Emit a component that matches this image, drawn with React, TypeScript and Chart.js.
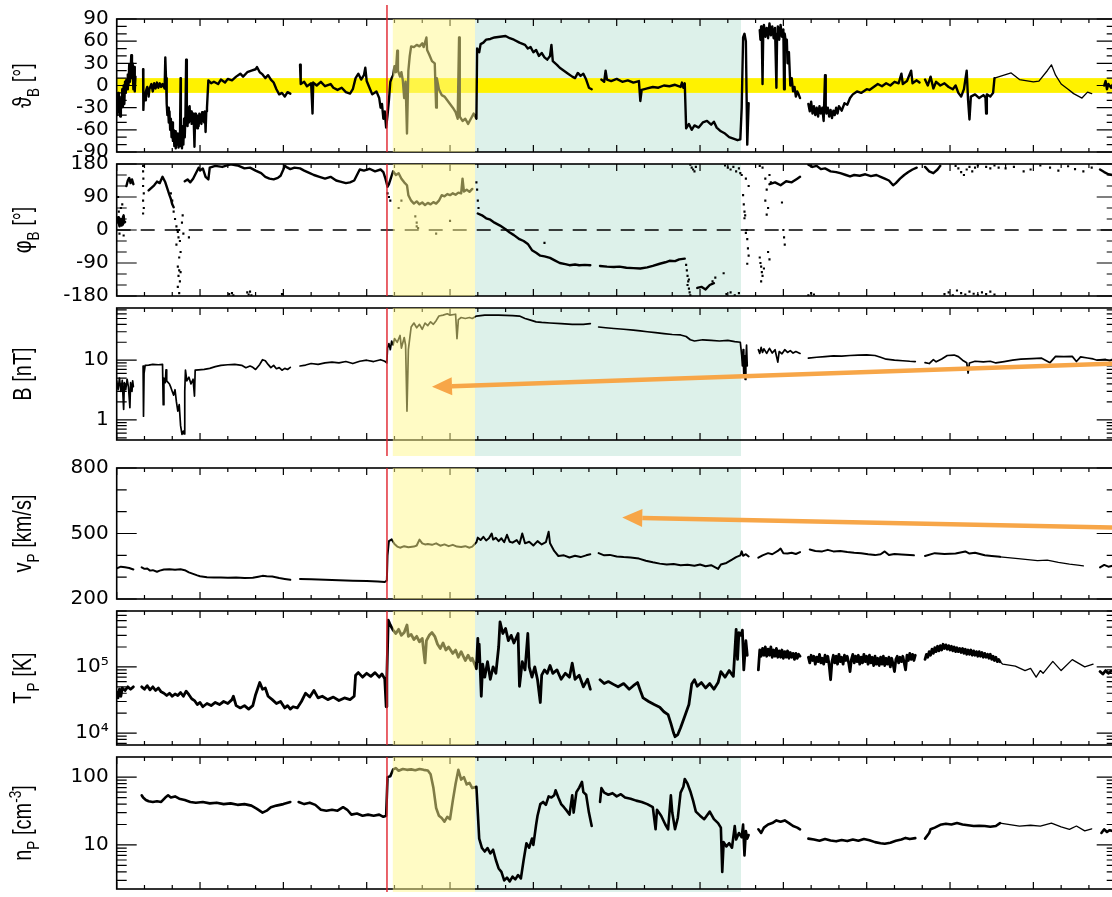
import React, { useEffect, useRef } from 'react';
import { Chart, registerables } from 'chart.js';

Chart.register(...registerables);

type P = [number, number | null];

// ---- time axis (hours) and event times ----
const X_MIN = 0;
const X_MAX = 72;
const X_MAJOR = 6;
const X_MINOR = 2;
const SHOCK_TIME = 19.46;
const SHEATH_START = 19.88;
const SHEATH_END = 25.8;
const CLOUD_END = 44.95;

// ---- tick labels ----
const thetaTicks = [-90, -60, -30, 0, 30, 60, 90];
const phiTicks = [-180, -90, 0, 90, 180];
const bTicks = [1, 10];
const vTicks = [200, 500, 800];
const tTicks = [1e4, 1e5];
const nTicks = [10, 100];
const thetaBand = [-10, 10];

// ---- series: [hour, value] ----
const thetaData: P[] = [
  [0.0,-20],[0.05,-40],[0.1,-10],[0.15,-36],[0.2,-15],[0.25,-42],[0.3,-20],[0.35,-30],[0.4,-5],[0.45,-28],[0.5,0],[0.55,-25],[0.6,5],[0.65,-10],[0.7,8],[0.75,-5],[0.8,15],[0.85,0],[0.9,28],[0.95,5],[1.0,20],[1.05,41],[1.1,10],[1.15,30],[1.2,-5],[1.25,25],[1.3,-8],[1.35,12],[1.6,null],
  [1.9,22],[1.92,-33],[1.97,-10],[2.05,-20],[2.1,-8],[2.2,-2],[2.3,-15],[2.35,-5],[2.5,2],[2.6,-8],[2.7,3],[2.8,-4],[2.9,4],[3.0,-3],[3.1,3],[3.2,-2],[3.3,2],[3.45,-4],[3.5,38],[3.55,10],[3.6,-25],[3.65,-40],[3.7,-30],[3.75,-50],[3.8,-35],[3.85,-60],[3.9,-45],[3.95,-70],[4.0,-50],[4.05,-75],[4.1,-60],[4.15,-82],[4.2,-62],[4.25,-85],[4.3,-70],[4.35,-80],[4.4,-65],[4.45,-84],[4.5,-70],[4.55,-82],[4.6,10],[4.62,-75],[4.65,-60],[4.7,-85],[4.75,-55],[4.8,-80],[4.85,-45],[4.9,-70],[4.95,-40],[5.0,35],[5.05,-35],[5.1,-55],[5.15,-30],[5.2,-50],[5.25,-28],[5.3,-48],[5.35,-35],[5.4,-52],[5.5,-38],[5.55,-50],[5.6,-83],[5.65,-38],[5.7,-55],[5.75,-40],[5.8,-58],[5.85,-42],[5.9,-55],[5.95,-38],[6.0,-50],[6.05,-40],[6.1,-52],[6.15,-36],[6.2,-48],[6.25,-40],[6.3,-50],[6.35,-35],[6.4,-63],[6.45,-35],[6.5,-30],
  [6.6,7],[6.8,3],[7.0,5],[7.3,2],[7.5,8],[7.8,4],[8.0,9],[8.3,7],[8.6,12],[8.9,16],[9.1,12],[9.4,18],[9.7,20],[10.0,22],[10.1,25],[10.3,18],[10.5,15],[10.7,10],[10.9,14],[11.1,8],[11.3,4],[11.5,-5],[11.7,-12],[11.9,-10],[12.1,-15],[12.3,-9],[12.5,-11],[12.9,null],
  [13.2,28],[13.25,2],[13.5,5],[13.7,-1],[14.0,3],[14.1,-38],[14.15,4],[14.4,0],[14.7,5],[15.0,-1],[15.4,2],[15.6,-3],[15.9,-6],[16.2,-3],[16.5,-9],[16.8,-11],[17.0,-5],[17.2,10],[17.4,16],[17.6,8],[17.8,14],[17.9,24],[18.0,6],[18.2,-3],[18.4,-12],[18.7,-8],[18.9,-17],[19.0,-30],[19.1,-25],[19.2,-45],[19.3,-35],[19.4,-57],[19.5,-40],[19.6,-20],[19.7,5],[19.8,10],
  [19.9,14],[20.0,26],[20.1,18],[20.2,47],[20.25,20],[20.4,12],[20.5,18],[20.6,7],[20.7,-17],[20.8,5],[20.9,-65],[21.0,20],[21.1,40],[21.2,53],[21.4,52],[21.6,55],[21.8,53],[22.0,57],[22.1,52],[22.3,65],[22.35,48],[22.5,42],[22.7,33],[22.9,30],[23.0,-30],[23.05,10],[23.2,-5],[23.4,-13],[23.6,-15],[23.8,-20],[24.0,-25],[24.2,-30],[24.4,-36],[24.55,-45],[24.65,65],[24.7,-42],[24.9,-48],[25.1,-45],[25.3,-52],[25.5,-45],[25.7,-38],
  [25.9,-45],[25.95,50],[26.1,45],[26.2,56],[26.4,58],[26.6,62],[26.9,63],[27.2,65],[27.6,66],[28.0,67],[28.3,64],[28.6,62],[29.0,58],[29.4,55],[29.6,50],[29.8,52],[30.0,45],[30.2,48],[30.4,40],[30.6,44],[30.8,38],[31.0,35],[31.2,40],[31.3,55],[31.4,33],[31.7,28],[31.9,24],[32.2,20],[32.5,16],[32.8,12],[33.0,10],[33.2,17],[33.4,13],[33.6,16],[33.8,8],[34.0,-3],[34.2,-5],[34.5,null],
  [34.9,8],[35.1,5],[35.2,20],[35.3,8],[35.6,6],[36.0,9],[36.4,5],[36.8,7],[37.2,4],[37.6,6],[37.7,-21],[37.8,-6],[38.2,-4],[38.6,-2],[39.0,-3],[39.4,0],[39.8,-1],[40.2,1],[40.6,-2],[40.7,4],[40.8,-3],[40.9,3],[41.0,-58],[41.2,-52],[41.4,-60],[41.6,-54],[41.9,-57],[42.2,-50],[42.5,-48],[42.8,-53],[43.0,-49],[43.2,-57],[43.5,-62],[43.8,-65],[44.1,-70],[44.4,-72],[44.7,-74],[44.9,-73],[45.0,-30],[45.1,65],[45.2,70],[45.3,60],[45.4,-80],[45.5,-24],[45.8,null],
  [46.3,75],[46.35,62],[46.4,80],[46.45,66],[46.5,2],[46.55,70],[46.6,82],[46.7,66],[46.8,78],[46.9,64],[47.0,84],[47.1,68],[47.2,80],[47.3,64],[47.4,78],[47.5,-3],[47.55,70],[47.6,80],[47.7,62],[47.8,82],[47.9,66],[48.0,76],[48.05,-5],[48.1,70],[48.2,55],[48.25,62],[48.3,30],[48.4,45],[48.5,0],[48.6,10],[48.7,-8],[48.8,-2],[48.9,-15],[49.0,-8],[49.1,-12],[49.2,-17],[49.4,null],
  [49.8,-25],[49.9,-35],[50.0,-22],[50.1,-38],[50.2,-28],[50.3,-40],[50.4,-30],[50.5,-42],[50.6,-28],[50.7,-38],[50.8,-30],[50.9,-48],[51.0,14],[51.05,-28],[51.1,-38],[51.2,-30],[51.3,-42],[51.4,-33],[51.5,-44],[51.6,-34],[51.7,-40],[51.8,-30],[51.9,-38],[52.0,-28],[52.2,-34],[52.4,-24],[52.6,-26],[52.8,-17],[53.0,-12],[53.3,-8],[53.6,-10],[54.0,-5],[54.2,-6],[54.5,-2],[54.8,2],[55.1,-1],[55.4,3],[55.7,0],[56.0,5],[56.3,3],[56.5,16],[56.6,2],[56.9,6],[57.2,20],[57.3,3],[57.6,7],[57.8,4],[58.0,null],
  [58.2,8],[58.4,0],[58.6,12],[58.8,-4],[59.0,5],[59.3,0],[59.6,3],[59.9,-2],[60.2,-5],[60.4,0],[60.6,-10],[60.8,-15],[61.0,-5],[61.2,20],[61.3,-20],[61.4,-46],[61.5,-15],[61.8,-12],[62.1,-17],[62.4,-13],[62.55,-16],[62.6,-38],[62.65,-12],[62.9,-15],[63.1,-10],[63.2,10],[63.3,null],
  [71.1,0],[71.2,6],[71.3,-5],[71.4,2],[71.6,-3],[71.7,1],
];
const thetaThin: P[] = [
  [63.2,10],[64.4,17],[65.0,8],[66.0,5],[66.4,6],[67.0,20],[67.3,28],[67.6,14],[68.0,2],[68.5,-5],[68.9,-11],[69.5,-17],[69.9,-9],[70.2,-11],
];

const phiTrack: P[] = [
  [0.0,20],[0.05,32],[0.1,35],[0.15,18],[0.2,10],[0.25,30],[0.3,28],[0.35,12],[0.4,15],[0.45,35],[0.5,40],[0.55,20],[0.6,22],[0.65,null],
  [0.7,120],[0.8,135],[0.9,142],[1.0,128],[1.1,138],[1.2,125],[1.25,null],
  [2.3,108],[2.5,115],[2.7,122],[2.9,132],[3.1,128],[3.3,145],[3.5,130],[3.6,118],[3.8,95],[3.9,85],[4.0,70],[4.1,62],[4.15,null],
  [4.9,133],[5.1,138],[5.3,130],[5.5,140],[5.7,155],[5.9,170],[6.0,162],[6.2,168],[6.4,145],[6.6,138],[6.7,170],[7.1,175],[7.6,172],[8.2,179],[8.7,176],[9.2,168],[9.6,170],[10.0,162],[10.4,155],[10.7,145],[11.0,140],[11.3,138],[11.6,142],[11.8,148],[12.0,165],[12.1,175],[12.3,170],[12.5,166],[12.8,170],[13.2,168],[13.5,162],[13.9,155],[14.2,150],[14.6,145],[15.0,140],[15.4,145],[15.8,135],[16.1,132],[16.5,128],[16.8,130],[17.1,135],[17.3,150],[17.5,165],[17.8,162],[18.2,167],[18.6,160],[19.0,165],[19.2,158],[19.35,140],[19.5,118],[19.6,125],
  [19.9,160],[20.1,150],[20.3,155],[20.5,140],[20.7,130],[20.9,122],[21.0,95],[21.2,80],[21.4,72],[21.6,78],[21.8,70],[22.0,75],[22.2,68],[22.4,74],[22.6,70],[22.8,76],[23.0,72],[23.2,80],[23.4,95],[23.6,92],[23.8,98],[24.0,95],[24.2,100],[24.4,96],[24.6,102],[24.8,100],[24.9,140],[25.0,105],[25.2,110],[25.4,104],[25.6,112],[25.8,null],
  [26.0,45],[26.3,40],[26.6,32],[26.9,28],[27.2,20],[27.6,12],[28.0,2],[28.3,-7],[28.6,-14],[29.0,-25],[29.3,-30],[29.6,-38],[29.9,-55],[30.2,-62],[30.5,-70],[30.8,-72],[31.2,-76],[31.5,-82],[31.9,-90],[32.3,-93],[32.6,-96],[33.0,-94],[33.3,-96],[33.7,-95],[34.1,-96],[34.4,null],
  [34.8,-98],[35.3,-100],[35.8,-101],[36.2,-100],[36.7,-103],[37.2,-104],[37.7,-105],[38.2,-102],[38.6,-98],[39.1,-92],[39.5,-88],[39.8,-84],[40.2,-85],[40.5,-80],[40.9,-78],[41.0,null],
  [41.8,-158],[42.1,-155],[42.4,-162],[42.7,-150],[43.0,-145],[43.05,null],
  [47.0,125],[47.4,130],[47.8,122],[48.2,133],[48.6,130],[49.0,140],[49.2,145],[49.3,null],
  [49.8,178],[50.1,172],[50.4,175],[50.7,166],[51.0,168],[51.4,160],[51.8,158],[52.1,155],[52.5,150],[52.8,146],[53.1,150],[53.5,148],[53.9,152],[54.3,147],[54.7,150],[55.0,145],[55.3,140],[55.6,135],[55.9,122],[56.1,128],[56.4,140],[56.7,150],[57.0,158],[57.3,165],[57.6,170],[57.8,null],
  [58.2,172],[58.5,160],[58.8,155],[59.1,165],[59.3,175],[59.4,null],
  [70.8,165],[71.1,158],[71.4,152],[71.7,150],
];
const phiDots: P[] = [
  [0.1,90],[0.3,60],[0.2,-10],[0.5,-15],[0.4,70],[0.15,50],
  [1.9,175],[1.9,160],[1.92,140],[1.9,120],[1.95,100],[1.9,80],[1.95,60],[1.9,45],
  [3.9,100],[4.0,80],[4.1,50],[4.2,30],[4.3,10],[4.35,0],[4.4,-5],[4.45,-20],[4.5,0],[4.55,-30],[4.3,-40],[4.6,-60],[4.5,-75],[4.4,-100],[4.5,-110],[4.6,-115],[4.45,-125],[4.55,-140],[4.4,-155],[4.5,-172],[4.7,20],[4.8,-10],[4.75,40],[5.2,-20],
  [8.1,-175],[8.3,-172],[8.4,-178],[9.4,-170],[9.5,-176],[9.6,-168],[9.7,-178],[11.9,-175],
  [19.5,100],[19.6,90],[19.7,80],
  [20.3,60],[20.5,80],[21.5,37],[21.6,20],[21.7,5],[21.6,10],[23.0,-10],[24.0,25],
  [25.9,130],[25.95,110],[26.0,80],[26.05,60],[30.8,-35],
  [41.0,-95],[41.05,-110],[41.1,-125],[41.15,-140],[41.1,-150],[41.2,-160],[41.25,-170],[41.3,-178],[41.2,-135],
  [41.3,178],[41.4,170],[41.5,165],[41.6,160],[41.7,172],
  [42.9,-140],[43.1,-130],[43.7,-118],
  [43.8,176],[44.0,170],[44.2,165],[44.4,172],[44.6,160],[44.8,168],[44.9,155],[45.0,150],
  [43.9,-175],[44.2,-170],[44.5,-178],[44.8,-172],
  [45.1,95],[45.15,70],[45.2,50],[45.25,40],[45.2,32],[45.3,-8],[45.35,0],[45.4,-25],[45.45,-50],[45.5,-70],[45.4,-92],[45.3,140],[45.5,120],
  [46.3,-75],[46.35,-90],[46.4,-100],[46.45,-115],[46.5,-125],[46.4,-140],[46.6,-105],[46.3,175],[46.5,170],[46.7,140],[46.8,110],[46.7,80],[46.9,60],[46.8,42],[46.9,-60],[47.0,-80],[47.0,150],[47.1,130],
  [47.9,75],[48.0,0],[48.1,-40],[48.05,-20],
  [49.8,-178],[50.0,-172],[50.2,-176],
  [60.4,175],[60.6,168],[60.8,158],[61.0,150],[61.2,165],[61.4,172],[61.6,160],[61.8,170],[62.0,176],
  [62.6,172],[62.9,168],[63.2,176],[63.5,170],
  [59.6,-175],[59.9,-170],[60.2,-178],[60.5,-165],[60.8,-172],[61.1,-176],[61.4,-168],[61.7,-174],[62.0,-178],[62.3,-170],[62.6,-175],[62.9,-168],[63.2,-176],
  [64.0,168],[64.6,172],[65.3,160],[65.8,165],[66.5,176],[67.2,170],[67.8,162],[68.5,174],[69.0,166],[69.6,160],[70.2,170],
];
const phiZero: P[] = [[X_MIN, 0], [X_MAX, 0]];

const bData: P[] = [
  [0.0,4.5],[0.1,3.2],[0.2,5.0],[0.3,3.0],[0.4,4.6],[0.5,1.5],[0.55,4.2],[0.65,3.2],[0.75,4.8],[0.85,3.5],[0.95,1.6],[1.0,4.2],[1.1,3.0],[1.15,4.5],[1.2,3.6],[1.5,null],
  [1.9,8.0],[1.93,1.15],[1.97,6.0],[2.05,8.2],[2.3,8.3],[2.6,8.5],[3.0,8.4],[3.3,8.5],[3.35,1.8],[3.4,5.0],[3.5,4.2],[3.55,6.9],[3.6,4.5],[3.8,4.0],[3.9,3.5],[4.0,3.0],[4.1,2.6],[4.2,3.2],[4.3,2.0],[4.4,1.4],[4.5,1.8],[4.6,0.8],[4.7,0.57],[4.8,0.65],[4.85,0.58],[4.9,3.0],[4.95,6.8],[5.05,4.5],[5.2,5.2],[5.35,4.0],[5.5,4.8],[5.6,2.5],[5.65,6.8],[5.9,6.9],[6.3,7.0],[6.7,7.3],[7.1,7.8],[7.5,8.2],[8.0,8.4],[8.5,8.5],[9.0,8.2],[9.3,7.5],[9.6,8.0],[9.8,7.6],[10.0,7.0],[10.3,8.5],[10.5,10.2],[10.7,9.8],[10.9,8.5],[11.1,7.5],[11.3,8.2],[11.5,7.2],[11.7,7.5],[11.9,6.8],[12.1,7.3],[12.3,7.0],[12.5,7.6],[12.8,null],
  [13.2,8.0],[13.6,8.3],[14.0,8.8],[14.5,8.5],[15.0,9.0],[15.5,9.3],[16.0,9.0],[16.5,9.5],[17.0,8.8],[17.5,9.6],[18.0,10.0],[18.5,9.5],[19.0,10.2],[19.3,9.6],[19.45,9.0],
  [19.5,16],[19.6,19],[19.7,15],[19.8,21],[19.9,18],[20.0,23],[20.2,20],[20.4,26],[20.5,16],[20.7,24],[20.8,18],[20.9,1.4],[21.0,15],[21.2,36],[21.4,42],[21.6,35],[21.8,40],[22.0,33],[22.2,42],[22.4,38],[22.6,44],[22.8,40],[23.0,46],[23.2,55],[23.5,57],[23.8,60],[24.0,57],[24.4,59],[24.5,23],[24.6,48],[24.8,52],[25.1,50],[25.4,52],[25.6,50],
  [25.9,55],[26.5,57],[27.5,57],[28.5,56],[29.0,55],[29.4,50],[29.8,47],[30.2,44],[30.6,43],[31.2,42],[32.0,41],[32.8,40],[33.6,40],[34.1,41],[34.4,null],
  [34.7,36],[35.2,35],[35.8,34],[36.5,33],[37.2,32],[37.7,31],[38.2,30],[38.8,29],[39.4,28],[40.0,27],[40.6,26.5],[41.0,25],[41.3,22],[41.6,21],[42.2,22],[42.8,21.5],[43.4,21],[44.0,21.5],[44.5,20.5],[44.9,20],[45.0,12],[45.05,8],[45.1,15],[45.15,5.7],[45.2,12],[45.25,4.75],[45.3,10],[45.35,18],[45.4,8],[45.8,null],
  [46.2,15],[46.3,13],[46.4,16.4],[46.5,13.5],[46.6,15.5],[46.8,13],[47.0,15.8],[47.2,13.2],[47.4,15],[47.6,9.3],[47.7,14],[47.9,12.8],[48.1,15],[48.3,13.5],[48.5,14.5],[48.7,13.2],[48.9,14],[49.2,13.0],[49.5,null],
  [49.8,10.8],[50.4,11.2],[51.0,11.5],[51.6,11.8],[52.2,11.7],[52.8,12.0],[53.4,12.2],[54.0,12.3],[54.6,12.0],[55.0,11.2],[55.4,10.4],[56.0,10.0],[56.6,9.8],[57.1,9.6],[57.5,9.5],[57.8,null],
  [58.2,9.1],[58.5,8.8],[58.8,10.2],[59.0,9.4],[59.4,10.5],[59.8,12.0],[60.3,12.2],[60.6,11.5],[60.9,10.0],[61.2,9.1],[61.3,6.1],[61.4,9.0],[61.8,9.6],[62.4,9.4],[62.9,9.6],[63.3,9.0],[63.9,9.5],[64.5,10.0],[65.1,10.4],[65.9,10.6],[66.6,10.8],[67.2,9.1],[67.6,11.6],[68.2,11.5],[68.8,11.6],[69.1,9.5],[69.4,11.4],[69.9,10.9],[70.3,10.5],[70.6,10.0],[71.2,10.3],[71.5,9.8],[71.7,10.4],
];

const vData: P[] = [
  [0.0,340],[0.3,348],[0.6,345],[0.9,342],[1.2,335],[1.5,null],
  [1.8,345],[2.0,338],[2.2,340],[2.4,330],[2.6,332],[2.9,325],[3.1,330],[3.4,335],[3.8,336],[4.2,334],[4.6,336],[4.9,332],[5.2,322],[5.5,315],[5.8,308],[6.0,304],[6.5,300],[7.0,298],[7.5,299],[8.0,297],[8.6,298],[9.2,296],[9.8,297],[10.2,302],[10.5,306],[10.8,304],[11.2,303],[11.7,296],[12.1,292],[12.5,288],[12.8,null],
  [13.2,292],[14.0,290],[15.0,288],[16.0,286],[17.0,284],[18.0,283],[18.8,280],[19.3,278],[19.45,285],[19.5,400],[19.6,465],[19.8,473],[20.0,452],[20.2,440],[20.4,435],[20.7,442],[21.0,437],[21.4,440],[21.6,445],[21.8,472],[22.0,455],[22.2,450],[22.4,452],[22.7,448],[23.0,455],[23.3,444],[23.6,450],[23.9,442],[24.2,448],[24.5,440],[24.8,438],[25.1,442],[25.4,435],[25.6,440],
  [25.9,460],[26.0,481],[26.2,470],[26.4,485],[26.6,468],[26.8,478],[27.0,500],[27.1,472],[27.3,480],[27.5,465],[27.7,478],[27.9,460],[28.1,494],[28.3,462],[28.5,458],[28.8,470],[29.0,452],[29.2,500],[29.4,455],[29.7,462],[30.0,445],[30.3,465],[30.6,450],[30.9,460],[31.1,508],[31.2,455],[31.5,420],[31.8,397],[32.2,400],[32.6,390],[33.0,398],[33.4,392],[33.8,400],[34.1,405],[34.4,null],
  [34.7,410],[35.1,400],[35.5,402],[36.0,395],[36.5,392],[37.0,390],[37.6,385],[38.1,375],[38.6,368],[39.1,362],[39.6,358],[40.1,360],[40.6,355],[41.1,357],[41.6,352],[42.0,358],[42.4,350],[42.8,355],[43.3,338],[43.5,358],[43.9,365],[44.3,380],[44.6,392],[44.9,400],[45.0,418],[45.1,398],[45.3,405],[45.5,395],[45.8,null],
  [46.2,389],[46.5,400],[46.9,410],[47.2,405],[47.6,420],[47.8,431],[48.0,410],[48.3,408],[48.6,412],[48.9,406],[49.2,415],[49.5,null],
  [49.9,427],[50.3,420],[50.8,418],[51.2,425],[51.6,418],[52.1,420],[52.6,415],[53.1,412],[53.6,410],[54.1,405],[54.6,401],[55.0,405],[55.3,418],[55.6,402],[56.0,406],[56.5,404],[57.4,400],[57.8,null],
  [58.2,397],[58.9,410],[59.6,406],[60.4,408],[61.1,418],[61.4,408],[61.8,412],[62.5,400],[63.0,397],[63.6,393],[63.7,null],
  [70.8,345],[71.1,356],[71.4,348],[71.7,352],
];
const vThin: P[] = [
  [63.6,393],[64.9,385],[66.3,376],[67.0,378],[67.8,368],[68.6,360],[69.2,355],[69.6,352],
];

const tData: P[] = [
  [0.0,4.2e4],[0.1,3.4e4],[0.2,4.6e4],[0.3,3.6e4],[0.4,4.8e4],[0.6,4.4e4],[0.8,5.0e4],[1.0,4.6e4],[1.2,5.0e4],[1.5,null],
  [1.8,5.0e4],[2.0,4.6e4],[2.2,5.2e4],[2.4,4.5e4],[2.6,5.0e4],[2.8,4.4e4],[3.0,4.8e4],[3.2,4.2e4],[3.4,4.0e4],[3.6,3.7e4],[3.8,4.0e4],[4.0,3.6e4],[4.2,3.9e4],[4.4,3.7e4],[4.6,4.1e4],[4.8,3.6e4],[5.0,4.3e4],[5.2,3.8e4],[5.4,3.3e4],[5.6,3.1e4],[5.8,2.7e4],[6.0,2.9e4],[6.2,2.5e4],[6.5,2.8e4],[6.8,2.6e4],[7.1,2.9e4],[7.4,2.7e4],[7.7,3.0e4],[8.0,2.8e4],[8.3,3.2e4],[8.4,3.6e4],[8.6,2.6e4],[8.9,2.4e4],[9.2,2.6e4],[9.5,2.3e4],[9.8,2.6e4],[10.0,3.8e4],[10.3,5.8e4],[10.5,4.6e4],[10.7,4.8e4],[10.9,3.6e4],[11.2,3.2e4],[11.5,2.8e4],[11.8,3.0e4],[12.1,2.4e4],[12.3,2.6e4],[12.5,2.3e4],
  [12.7,2.5e4],[13.0,2.4e4],[13.3,3.0e4],[13.6,4.0e4],[13.9,3.5e4],[14.2,4.4e4],[14.5,3.4e4],[14.8,3.6e4],[15.2,3.2e4],[15.6,3.5e4],[16.0,3.1e4],[16.4,3.4e4],[16.8,3.2e4],[17.1,3.6e4],[17.2,7.5e4],[17.4,8.2e4],[17.7,7.0e4],[18.0,8.0e4],[18.3,7.2e4],[18.6,8.2e4],[18.9,7.0e4],[19.1,7.8e4],[19.3,6.6e4],[19.4,2.5e4],[19.45,7e4],[19.55,5.1e5],[19.7,4.3e5],
  [19.9,3.6e5],[20.1,3.2e5],[20.3,3.7e5],[20.5,3.0e5],[20.7,3.3e5],[20.9,4.3e5],[21.0,2.9e5],[21.2,3.1e5],[21.4,2.6e5],[21.6,2.9e5],[21.8,2.4e5],[22.0,2.7e5],[22.2,1.15e5],[22.3,2.5e5],[22.5,3.0e5],[22.7,3.3e5],[22.9,2.9e5],[23.1,2.2e5],[23.3,1.9e5],[23.5,2.3e5],[23.7,1.8e5],[23.9,2.0e5],[24.2,1.6e5],[24.4,1.8e5],[24.6,1.4e5],[24.8,1.7e5],[25.1,1.25e5],[25.3,1.5e5],[25.5,1.25e5],[25.6,1.35e5],
  [25.9,9.4e4],[26.0,2.7e5],[26.05,1.2e5],[26.1,2.2e5],[26.25,3.6e4],[26.35,1.1e5],[26.5,7.0e4],[26.7,1.2e5],[26.9,6.5e4],[27.1,1.0e5],[27.3,8.0e4],[27.5,2.0e5],[27.6,4.8e5],[27.8,3.2e5],[28.0,3.8e5],[28.2,2.5e5],[28.4,3.0e5],[28.6,2.3e5],[28.9,3.2e5],
  [29.0,5.1e4],[29.2,1.2e5],[29.4,9e4],[29.6,3.2e5],[29.7,1.0e5],[29.9,7.0e4],[30.1,1.0e5],[30.3,6.4e4],[30.5,2.9e4],[30.6,7.5e4],[30.8,9.0e4],[31.0,8.0e4],[31.2,1.05e5],[31.4,8.0e4],[31.7,9.0e4],[32.0,6.5e4],[32.3,8.0e4],[32.6,7.0e4],[32.8,1.14e5],[33.0,6.5e4],[33.3,7.5e4],[33.6,5.0e4],[33.9,6.5e4],[34.1,4.6e4],[34.4,null],
  [34.8,6.4e4],[35.1,5.6e4],[35.4,6.0e4],[35.8,5.4e4],[36.1,5.0e4],[36.5,5.6e4],[36.9,4.6e4],[37.2,5.2e4],[37.5,5.8e4],
  [37.7,4.4e4],[37.9,3.4e4],[38.3,3.0e4],[38.7,2.7e4],[39.1,2.45e4],[39.4,2.1e4],[39.7,1.9e4],[39.9,1.4e4],[40.1,1.0e4],[40.2,8.8e3],[40.4,9.5e3],[40.6,1.2e4],[40.9,1.8e4],[41.2,2.7e4],[41.4,5.5e4],[41.6,6.4e4],[41.8,5.1e4],[42.1,5.8e4],[42.4,4.8e4],[42.7,5.6e4],[43.0,4.6e4],[43.3,5.8e4],[43.5,8.5e4],[43.8,7.0e4],[44.1,8.8e4],[44.4,7.2e4],[44.6,3.7e5],[44.7,1.3e5],[44.8,3.3e5],[44.95,3.0e5],[45.05,3.6e5],[45.15,9.0e4],[45.3,2.5e5],[45.4,1.5e5],[45.8,null],
  [46.2,9e4],[46.3,1.8e5],[46.4,1.45e5],[46.5,1.9e5],[46.6,1.5e5],[46.7,2.0e5],[46.8,1.45e5],[46.9,1.85e5],[47.0,1.5e5],[47.1,2.0e5],[47.2,1.4e5],[47.3,1.8e5],[47.4,1.45e5],[47.5,1.9e5],[47.6,1.4e5],[47.7,1.75e5],[47.8,1.4e5],[47.9,1.8e5],[48.0,1.35e5],[48.1,1.7e5],[48.2,1.4e5],[48.3,1.75e5],[48.4,1.35e5],[48.5,1.65e5],[48.6,1.4e5],[48.7,1.6e5],[48.8,1.3e5],[48.9,1.6e5],[49.0,1.35e5],[49.1,1.55e5],[49.2,1.45e5],[49.5,null],
  [49.8,1.4e5],[49.9,1.15e5],[50.0,1.5e5],[50.1,1.25e5],[50.2,1.45e5],[50.3,1.1e5],[50.4,1.4e5],[50.5,1.2e5],[50.6,1.55e5],[50.7,1.15e5],[50.8,1.35e5],[50.9,1.1e5],[51.0,1.5e5],[51.1,1.2e5],[51.2,1.45e5],[51.3,1.05e5],[51.4,6.4e4],[51.5,1.2e5],[51.6,1.5e5],[51.7,1.15e5],[51.8,1.45e5],[51.9,1.1e5],[52.0,1.55e5],[52.1,1.2e5],[52.2,1.4e5],[52.3,1.1e5],[52.4,1.5e5],[52.5,1.25e5],[52.6,1.45e5],[52.7,1.15e5],[52.8,8.5e4],[52.9,1.3e5],[53.0,1.55e5],[53.1,1.15e5],[53.2,1.45e5],[53.3,1.2e5],[53.4,1.5e5],[53.5,1.1e5],[53.6,1.4e5],[53.7,1.15e5],[53.8,1.55e5],[53.9,1.2e5],[54.0,1.45e5],[54.1,1.1e5],[54.2,1.5e5],[54.3,1.15e5],[54.4,1.4e5],[54.5,1.05e5],[54.6,1.45e5],[54.7,1.1e5],[54.8,1.35e5],[54.9,1.05e5],[55.0,1.4e5],[55.1,1.1e5],[55.2,1.45e5],[55.3,1.05e5],[55.4,1.35e5],[55.5,1.1e5],[55.6,1.4e5],[55.7,1.0e5],[55.8,1.35e5],[55.9,1.1e5],[56.0,8.5e4],[56.1,1.3e5],[56.2,1.45e5],[56.3,1.15e5],[56.4,1.4e5],[56.5,1.2e5],[56.6,1.45e5],[56.7,1.15e5],[56.8,9.0e4],[56.9,1.5e5],[57.0,1.25e5],[57.1,1.6e5],[57.2,1.3e5],[57.3,1.55e5],[57.4,1.25e5],[57.5,1.5e5],[57.8,null],
  [58.2,1.3e5],[58.3,1.55e5],[58.4,1.4e5],[58.5,1.7e5],[58.6,1.5e5],[58.7,1.85e5],[58.8,1.6e5],[58.9,1.95e5],[59.0,1.7e5],[59.1,2.05e5],[59.2,1.75e5],[59.3,2.1e5],[59.4,1.8e5],[59.5,2.2e5],[59.6,1.9e5],[59.7,2.15e5],[59.8,1.85e5],[59.9,2.1e5],[60.0,1.8e5],[60.1,2.05e5],[60.2,1.75e5],[60.3,2.0e5],[60.4,1.7e5],[60.5,1.95e5],[60.6,1.7e5],[60.7,1.9e5],[60.8,1.65e5],[60.9,1.9e5],[61.0,1.6e5],[61.1,1.85e5],[61.2,1.55e5],[61.3,1.8e5],[61.4,1.55e5],[61.5,1.8e5],[61.6,1.5e5],[61.7,1.75e5],[61.8,1.5e5],[61.9,1.7e5],[62.0,1.45e5],[62.1,1.7e5],[62.2,1.45e5],[62.3,1.65e5],[62.4,1.4e5],[62.5,1.6e5],[62.6,1.4e5],[62.7,1.55e5],[62.8,1.35e5],[62.9,1.55e5],[63.0,1.3e5],[63.1,1.45e5],[63.2,1.25e5],[63.3,1.4e5],[63.4,1.2e5],[63.5,1.3e5],[63.6,1.2e5],[63.7,null],
  [70.8,8.5e4],[71.0,7.8e4],[71.2,8.8e4],[71.4,8.0e4],[71.6,8.6e4],
];
const tThin: P[] = [
  [63.6,1.2e5],[63.8,1.1e5],[64.7,1.03e5],[65.4,8.8e4],[65.8,9.5e4],[66.2,7.0e4],[66.5,8.8e4],[66.7,8.0e4],[67.4,1.21e5],[68.0,8.8e4],[68.8,1.29e5],[69.7,1.0e5],[70.3,1.1e5],
];

const nData: P[] = [
  [1.8,54],[1.9,50],[2.1,46],[2.3,44],[2.6,43],[2.9,44],[3.2,43],[3.5,50],[3.7,54],[3.9,50],[4.2,52],[4.5,48],[4.9,46],[5.3,43],[5.7,42],[6.2,43],[6.7,41],[7.2,42],[7.7,40],[8.2,41],[8.7,39],[9.2,40],[9.7,38],[10.1,34],[10.5,30],[10.8,32],[11.1,36],[11.5,38],[12.0,40],[12.5,43],[12.8,null],
  [13.1,43],[13.5,40],[13.9,42],[14.3,39],[14.7,33],[15.1,32],[15.5,33],[15.9,32],[16.3,36],[16.6,33],[16.9,28],[17.3,29],[17.7,27],[18.1,28],[18.5,27],[18.9,28],[19.2,26],[19.4,27],[19.5,100],[19.7,103],
  [19.9,130],[20.1,136],[20.3,124],[20.6,132],[20.9,128],[21.2,130],[21.5,126],[21.8,132],[22.1,128],[22.4,125],[22.6,110],[22.8,70],[23.0,35],[23.2,27],[23.4,25],[23.6,22],[23.8,26],[24.0,24],[24.2,45],[24.4,80],[24.6,128],[24.8,92],[25.0,100],[25.2,78],[25.4,82],[25.6,69],
  [25.9,72],[26.0,30],[26.1,12.4],[26.3,9.0],[26.5,8.0],[26.7,9.0],[26.9,7.5],[27.1,8.5],[27.3,6.0],[27.5,4.5],[27.7,4.0],[27.9,3.0],[28.1,3.3],[28.3,2.9],[28.5,3.4],[28.7,3.1],[28.9,3.6],[29.1,3.2],[29.3,6.0],[29.5,10.6],[29.7,9.1],[29.9,12.4],[30.0,10],[30.2,20],[30.3,27],[30.5,40],[30.7,43],[30.9,39],[31.1,52],[31.3,50],[31.5,54],[31.6,64],[31.8,50],[32.0,40],[32.2,36],[32.4,32],[32.6,28],[32.8,54],[32.9,30],[33.1,60],[33.3,70],[33.5,85],[33.6,60],[33.8,55],[34.0,30],[34.2,19],[34.4,null],
  [34.8,43],[34.9,69],[35.1,59],[35.4,55],[35.7,58],[36.0,52],[36.3,56],[36.6,50],[37.0,48],[37.4,45],[37.8,43],[38.2,40],[38.6,36],[38.8,17],[38.9,33],[39.2,27],[39.5,20],[39.7,17],[39.9,54],[40.0,30],[40.2,17],[40.4,25],[40.6,59],[40.8,72],[40.9,94],[41.1,80],[41.3,62],[41.5,45],[41.7,31],[42.0,27],[42.3,24],[42.7,31],[43.0,24],[43.3,21],[43.5,18],[43.6,4.0],[43.7,11],[43.9,9.5],[44.1,10.6],[44.3,9.1],[44.5,19],[44.6,12],[44.8,15],[45.0,13],[45.1,20],[45.2,7],[45.3,16],[45.4,12.4],[45.5,14],[45.8,null],
  [46.2,17],[46.4,15],[46.6,18],[46.9,20],[47.2,21],[47.5,23],[47.8,22],[48.1,23],[48.4,21],[48.7,19],[49.0,18],[49.2,17],[49.5,null],
  [49.8,12.4],[50.2,12.0],[50.6,11.5],[51.0,12.2],[51.4,11.6],[51.8,11.3],[52.2,11.8],[52.6,11.4],[53.0,12.0],[53.4,11.5],[53.8,12.2],[54.2,11.7],[54.6,11.0],[55.0,10.6],[55.3,10.4],[55.7,10.8],[56.1,11.5],[56.5,12.0],[56.8,12.7],[57.1,12.2],[57.5,12.6],[57.8,null],
  [58.2,12.4],[58.5,15],[58.6,17],[58.9,18],[59.3,19.8],[59.7,20.5],[60.1,20],[60.5,21],[60.9,20],[61.3,19.5],[61.7,19],[62.1,19.2],[62.5,19],[62.9,18.5],[63.3,19],[63.6,21],[63.7,null],
  [70.9,15],[71.1,17],[71.3,15.5],[71.5,16.5],[71.7,16],
];
const nThin: P[] = [
  [63.6,21],[64.3,20],[65.0,19],[65.8,19.5],[66.5,19],[67.3,21],[68.0,18.5],[68.6,17],[69.1,19],[69.7,16.1],[70.2,17.3],
];

// arrows: [hour, value] of tip and tail
const arrowB = { tip: [22.7, 3.58], tail: [72.5, 8.9] };
const arrowV = { tip: [36.4, 573], tail: [72.5, 526] };

// ---- styling / layout ----
const W = 1130;
const PAD = 14;
const PLOT_LEFT = 116.7;
const PLOT_RIGHT = 1116.7;
const AXIS_W = 100;
const CLOUD_FILL = 'rgb(221,241,234)';
const SHEATH_FILL = 'rgba(255,248,140,0.5)';
const BAND_FILL = '#FFF200';
const RED = '#E0202A';
const ARROW = '#F7A648';

const SUP: Record<string, string> = { '0': '⁰', '1': '¹', '2': '²', '3': '³', '4': '⁴', '5': '⁵', '6': '⁶', '7': '⁷', '8': '⁸', '9': '⁹', '-': '⁻' };
const pow10 = (v: number) => '10' + String(Math.round(Math.log10(v))).split('').map((c) => SUP[c]).join('');

const linMinors = (min: number, max: number, step: number, majors: number[]) => {
  const out: number[] = [];
  for (let v = min; v <= max + 1e-9; v += step) {
    const r = Math.round(v * 1000) / 1000;
    if (!majors.includes(r)) out.push(r);
  }
  return out;
};
const logTicks = (min: number, max: number, major: boolean) => {
  const out: number[] = [];
  for (let e = Math.floor(Math.log10(min)); e <= Math.ceil(Math.log10(max)); e++) {
    for (let m = 1; m <= 9; m++) {
      const v = m * Math.pow(10, e);
      if (v >= min && v <= max && (m === 1) === major) out.push(v);
    }
  }
  return out;
};

interface Seg { t: string; sub?: boolean; sup?: boolean }
interface Panel {
  top: number; bottom: number;
  title: Seg[];
  type: 'linear' | 'logarithmic';
  min: number; max: number;
  ticks: number[]; majors: number[]; minors: number[];
  fmt: (v: number) => string;
  datasets: any[];
  shadeTop: number; shadeBottom: number; redTop: number; redBottom: number;
  band?: number[];
  arrow?: { tip: number[]; tail: number[] };
}

const toXY = (pts: P[]) => pts.map(([x, y]) => ({ x, y }));
const line = (pts: P[], w: number, extra: any = {}) => ({
  data: toXY(pts), borderColor: '#000', backgroundColor: '#000', borderWidth: w, pointRadius: 0,
  tension: 0, spanGaps: false, fill: false, borderJoinStyle: 'round', borderCapStyle: 'round', ...extra,
});
const dots = (pts: P[]) => ({
  data: toXY(pts), showLine: false, pointRadius: 1.5, pointStyle: 'rect',
  pointBackgroundColor: '#000', pointBorderWidth: 0, borderColor: '#000', backgroundColor: '#000',
});

const PANELS: Panel[] = [
  {
    top: 13, bottom: 158, title: [{ t: 'ϑ' }, { t: 'B', sub: true }, { t: ' [°]' }],
    type: 'linear', min: -90, max: 90, ticks: thetaTicks, majors: thetaTicks,
    minors: linMinors(-90, 90, 10, thetaTicks), fmt: (v) => String(v),
    datasets: [line(thetaData, 2.4), line(thetaThin, 1.3)],
    shadeTop: 0, shadeBottom: 0, redTop: 14, redBottom: 0, band: thetaBand,
  },
  {
    top: 158, bottom: 302, title: [{ t: 'φ' }, { t: 'B', sub: true }, { t: ' [°]' }],
    type: 'linear', min: -180, max: 180, ticks: phiTicks, majors: phiTicks,
    minors: linMinors(-180, 180, 30, phiTicks), fmt: (v) => String(v),
    datasets: [line(phiZero, 1.3, { borderDash: [14, 10], borderCapStyle: 'butt' }), line(phiTrack, 2.4), dots(phiDots)],
    shadeTop: 0, shadeBottom: 0, redTop: 0, redBottom: 0,
  },
  {
    top: 302, bottom: 446, title: [{ t: 'B [nT]' }],
    type: 'logarithmic', min: 0.46, max: 75, ticks: bTicks, majors: logTicks(0.46, 75, true),
    minors: logTicks(0.46, 75, false), fmt: (v) => String(v),
    datasets: [line(bData, 1.7)],
    shadeTop: 0, shadeBottom: 16, redTop: 0, redBottom: 16, arrow: arrowB,
  },
  {
    top: 462, bottom: 605, title: [{ t: 'v' }, { t: 'P', sub: true }, { t: ' [km/s]' }],
    type: 'linear', min: 200, max: 800, ticks: vTicks, majors: vTicks,
    minors: linMinors(200, 800, 100, vTicks), fmt: (v) => String(v),
    datasets: [line(vData, 2.0), line(vThin, 1.3)],
    shadeTop: 0, shadeBottom: 0, redTop: 0, redBottom: 0, arrow: arrowV,
  },
  {
    top: 605, bottom: 751, title: [{ t: 'T' }, { t: 'P', sub: true }, { t: ' [K]' }],
    type: 'logarithmic', min: 6.6e3, max: 7.0e5, ticks: tTicks, majors: logTicks(6.6e3, 7e5, true),
    minors: logTicks(6.6e3, 7e5, false), fmt: pow10,
    datasets: [line(tData, 2.8), line(tThin, 1.3)],
    shadeTop: 0, shadeBottom: 0, redTop: 0, redBottom: 0,
  },
  {
    top: 751, bottom: 895, title: [{ t: 'n' }, { t: 'P', sub: true }, { t: ' [cm' }, { t: '-3', sup: true }, { t: ']' }],
    type: 'logarithmic', min: 2.24, max: 198, ticks: nTicks, majors: logTicks(2.24, 198, true),
    minors: logTicks(2.24, 198, false), fmt: (v) => String(v),
    datasets: [line(nData, 2.6), line(nThin, 1.3)],
    shadeTop: 0, shadeBottom: 3, redTop: 0, redBottom: 3,
  },
];

const drawTitle = (ctx: CanvasRenderingContext2D, segs: Seg[], cx: number, cy: number) => {
  const base = 20;
  const family = '"Liberation Sans", Arial, sans-serif';
  ctx.save();
  ctx.translate(cx, cy);
  ctx.rotate(-Math.PI / 2);
  ctx.scale(1, 1.25);
  const parts = segs.map((s) => {
    const size = s.sub || s.sup ? base * 0.68 : base;
    ctx.font = `${size}px ${family}`;
    return { ...s, size, w: ctx.measureText(s.t).width };
  });
  const total = parts.reduce((a, b) => a + b.w, 0);
  let xx = -total / 2;
  ctx.fillStyle = '#000';
  ctx.textAlign = 'left';
  ctx.textBaseline = 'alphabetic';
  const baseY = base * 0.36;
  for (const s of parts) {
    ctx.font = `${s.size}px ${family}`;
    const dy = s.sub ? base * 0.3 : s.sup ? -base * 0.42 : 0;
    ctx.fillText(s.t, xx, baseY + dy);
    xx += s.w;
  }
  ctx.restore();
};

const makePlugin = (p: Panel) => ({
  id: 'deco',
  beforeDatasetsDraw(chart: any) {
    const { ctx, chartArea: a, scales } = chart;
    const x = scales.x, y = scales.y;
    ctx.save();
    const xs = x.getPixelForValue(SHEATH_END), xe = x.getPixelForValue(CLOUD_END);
    ctx.fillStyle = CLOUD_FILL;
    ctx.fillRect(xs, a.top - p.shadeTop, xe - xs, a.bottom - a.top + p.shadeTop + p.shadeBottom);
    if (p.band) {
      const y1 = y.getPixelForValue(p.band[1]), y0 = y.getPixelForValue(p.band[0]);
      ctx.fillStyle = BAND_FILL;
      ctx.fillRect(a.left, y1, a.right - a.left, y0 - y1);
    }
    ctx.restore();
  },
  afterDatasetsDraw(chart: any) {
    const { ctx, chartArea: a, scales } = chart;
    const x = scales.x, y = scales.y;
    ctx.save();
    ctx.strokeStyle = '#000';
    ctx.lineWidth = 1.2;
    ctx.beginPath();
    for (let t = X_MIN; t <= X_MAX + 1e-9; t += X_MINOR) {
      const px = x.getPixelForValue(t);
      const len = Math.round(t) % X_MAJOR === 0 ? 7 : 4;
      ctx.moveTo(px, a.top); ctx.lineTo(px, a.top + len);
      ctx.moveTo(px, a.bottom); ctx.lineTo(px, a.bottom - len);
    }
    const yTick = (v: number, len: number) => {
      const py = y.getPixelForValue(v);
      ctx.moveTo(a.left, py); ctx.lineTo(a.left + len, py);
      ctx.moveTo(a.right, py); ctx.lineTo(a.right - len, py);
    };
    p.majors.forEach((v) => yTick(v, 20));
    p.minors.forEach((v) => yTick(v, 10));
    ctx.stroke();
    ctx.lineWidth = 1.6;
    ctx.strokeRect(a.left, a.top, a.right - a.left, a.bottom - a.top);
    const ss = x.getPixelForValue(SHEATH_START), se = x.getPixelForValue(SHEATH_END);
    ctx.fillStyle = SHEATH_FILL;
    ctx.fillRect(ss, a.top - p.shadeTop, se - ss, a.bottom - a.top + p.shadeTop + p.shadeBottom);
    const rx = x.getPixelForValue(SHOCK_TIME);
    ctx.strokeStyle = RED;
    ctx.lineWidth = 1.4;
    ctx.beginPath();
    ctx.moveTo(rx, a.top - p.redTop);
    ctx.lineTo(rx, a.bottom + p.redBottom);
    ctx.stroke();
    if (p.arrow) {
      const tx = x.getPixelForValue(p.arrow.tip[0]), ty = y.getPixelForValue(p.arrow.tip[1]);
      const sx = x.getPixelForValue(p.arrow.tail[0]), sy = y.getPixelForValue(p.arrow.tail[1]);
      const ang = Math.atan2(ty - sy, tx - sx);
      const headLen = 20, half = 9;
      const bx = tx - headLen * Math.cos(ang), by = ty - headLen * Math.sin(ang);
      ctx.strokeStyle = ARROW;
      ctx.lineWidth = 4.5;
      ctx.beginPath();
      ctx.moveTo(sx, sy);
      ctx.lineTo(bx, by);
      ctx.stroke();
      ctx.fillStyle = ARROW;
      ctx.beginPath();
      ctx.moveTo(tx, ty);
      ctx.lineTo(bx + half * Math.sin(ang), by - half * Math.cos(ang));
      ctx.lineTo(bx - half * Math.sin(ang), by + half * Math.cos(ang));
      ctx.closePath();
      ctx.fill();
    }
    ctx.restore();
    drawTitle(ctx, p.title, 22, (a.top + a.bottom) / 2);
  },
});

const makeChart = (canvas: HTMLCanvasElement, p: Panel) =>
  new Chart(canvas, {
    type: 'line',
    data: { datasets: p.datasets },
    options: {
      animation: false,
      responsive: false,
      maintainAspectRatio: false,
      events: [],
      layout: { padding: { left: PLOT_LEFT - AXIS_W, right: W - PLOT_RIGHT, top: PAD, bottom: PAD } },
      plugins: { legend: { display: false }, tooltip: { enabled: false }, title: { display: false } },
      scales: {
        x: { type: 'linear', min: X_MIN, max: X_MAX, display: false },
        y: {
          type: p.type,
          min: p.min,
          max: p.max,
          position: 'left',
          grid: { display: false, drawTicks: false },
          border: { display: false },
          afterFit: (s: any) => { s.width = AXIS_W; },
          afterBuildTicks: (s: any) => { s.ticks = p.ticks.map((v) => ({ value: v })); },
          ticks: {
            autoSkip: false,
            padding: 8,
            color: '#000',
            maxRotation: 0,
            minRotation: 0,
            font: { family: '"DejaVu Sans", sans-serif', size: 20 },
            callback: (v: any) => p.fmt(Number(v)),
          },
        },
      },
    } as any,
    plugins: [makePlugin(p)],
  });

export default function App() {
  const refs = useRef<(HTMLCanvasElement | null)[]>([]);
  useEffect(() => {
    const charts = PANELS.map((p, i) => makeChart(refs.current[i] as HTMLCanvasElement, p));
    return () => charts.forEach((c) => c.destroy());
  }, []);
  return (
    <div style={{ position: 'absolute', left: 0, top: 0, width: 1112, height: 897, overflow: 'hidden', background: '#fff' }}>
      {PANELS.map((p, i) => {
        const h = p.bottom - p.top + 2 * PAD;
        return (
          <canvas
            key={i}
            ref={(el) => { refs.current[i] = el; }}
            width={W}
            height={h}
            style={{ position: 'absolute', left: 0, top: p.top - PAD, width: W, height: h }}
          />
        );
      })}
    </div>
  );
}
